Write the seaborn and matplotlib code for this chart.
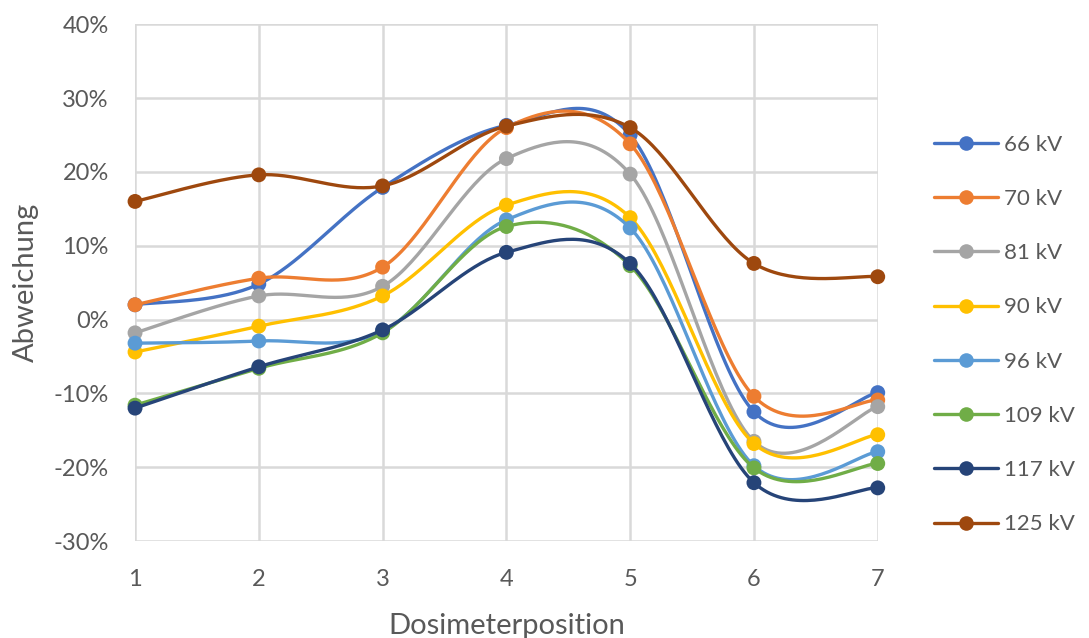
import numpy as np
import pandas as pd
import matplotlib
matplotlib.use("Agg")
import matplotlib.pyplot as plt
from matplotlib.lines import Line2D
from matplotlib.ticker import FuncFormatter
import seaborn as sns

# Dosimeter positions and relative deviation (%) per tube voltage
positions = [1, 2, 3, 4, 5, 6, 7]
series_names = ["66 kV", "70 kV", "81 kV", "90 kV", "96 kV", "109 kV", "117 kV", "125 kV"]
dev_66 = [2.0, 4.8, 17.9, 26.3, 25.0, -12.5, -9.9]
dev_70 = [2.0, 5.6, 7.1, 26.0, 23.8, -10.4, -10.9]
dev_81 = [-1.8, 3.2, 4.5, 21.8, 19.7, -16.5, -11.8]
dev_90 = [-4.4, -0.9, 3.2, 15.5, 13.8, -16.8, -15.6]
dev_96 = [-3.2, -2.9, -1.6, 13.5, 12.4, -19.8, -17.9]
dev_109 = [-11.6, -6.6, -1.8, 12.6, 7.3, -20.1, -19.5]
dev_117 = [-12.0, -6.4, -1.4, 9.1, 7.6, -22.1, -22.8]
dev_125 = [16.0, 19.6, 18.1, 26.2, 26.0, 7.6, 5.8]
all_devs = [dev_66, dev_70, dev_81, dev_90, dev_96, dev_109, dev_117, dev_125]
colors = ["#4472C4", "#ED7D31", "#A5A5A5", "#FFC000",
          "#5B9BD5", "#70AD47", "#264478", "#9E480E"]

df = pd.DataFrame({
    "Dosimeterposition": np.tile(positions, len(series_names)),
    "Abweichung": np.concatenate(all_devs),
    "Serie": np.repeat(series_names, len(positions)),
})


def smooth_curve(xs, ys, steps=40):
    """Cubic Bezier smoothing through every point (Catmull-Rom tangents)."""
    p = np.column_stack([xs, ys]).astype(float)
    ext = np.vstack([p[0], p, p[-1]])
    t = np.linspace(0, 1, steps)[:, None]
    out = []
    for i in range(len(p) - 1):
        p0, p1, p2, p3 = ext[i], ext[i + 1], ext[i + 2], ext[i + 3]
        c1 = p1 + (p2 - p0) / 6.0
        c2 = p2 - (p3 - p1) / 6.0
        seg = ((1 - t) ** 3) * p1 + 3 * ((1 - t) ** 2) * t * c1 \
            + 3 * (1 - t) * t ** 2 * c2 + t ** 3 * p2
        out.append(seg if i == 0 else seg[1:])
    out = np.vstack(out)
    return out[:, 0], out[:, 1]


sns.set_theme(style="white")
plt.rcParams["font.family"] = ["Lato", "DejaVu Sans"]
text_col = "#595959"
grid_col = "#D9D9D9"

fig = plt.figure(figsize=(10.89, 6.38), dpi=100)
ax = fig.add_axes([0.124, 0.152, 0.682, 0.810])

for z, (name, col) in enumerate(zip(series_names, colors)):
    sub = df[df["Serie"] == name]
    sx, sy = smooth_curve(sub["Dosimeterposition"].values, sub["Abweichung"].values)
    ax.plot(sx, sy, color=col, lw=2.4, solid_capstyle="round", zorder=3 + z * 0.1)
    sns.scatterplot(data=sub, x="Dosimeterposition", y="Abweichung", ax=ax,
                    color=col, s=115, edgecolor="none", legend=False,
                    zorder=3.05 + z * 0.1)

ax.set_xlim(1, 7)
ax.set_ylim(-30, 40)
ax.set_xticks(positions)
ax.set_yticks(np.arange(-30, 41, 10))
ax.yaxis.set_major_formatter(FuncFormatter(lambda v, _: f"{v:.0f}%"))
ax.grid(True, color=grid_col, lw=1.8, zorder=0)
ax.set_axisbelow(True)
for s in ax.spines.values():
    s.set_visible(False)
ax.tick_params(axis="both", length=0, labelsize=17, colors=text_col)
ax.tick_params(axis="x", pad=20)
ax.tick_params(axis="y", pad=19)
ax.set_xlabel("Dosimeterposition", fontsize=21, color=text_col, labelpad=17)
ax.set_ylabel("Abweichung", fontsize=21, color=text_col, labelpad=10)

handles = [Line2D([0], [0], color=c, lw=2.4, marker="o", markersize=10.5,
                  markeredgewidth=0) for c in colors]
leg = fig.legend(handles, series_names, loc="center left",
                 bbox_to_anchor=(0.839, 0.4757), frameon=False, fontsize=16,
                 labelcolor=text_col, handlelength=2.9, handletextpad=0.27,
                 labelspacing=1.54)
for ln in ax.lines:
    ln.set_clip_on(False)
for coll in ax.collections:
    coll.set_clip_on(False)

fig.savefig("out.png", dpi=100, facecolor="white")
